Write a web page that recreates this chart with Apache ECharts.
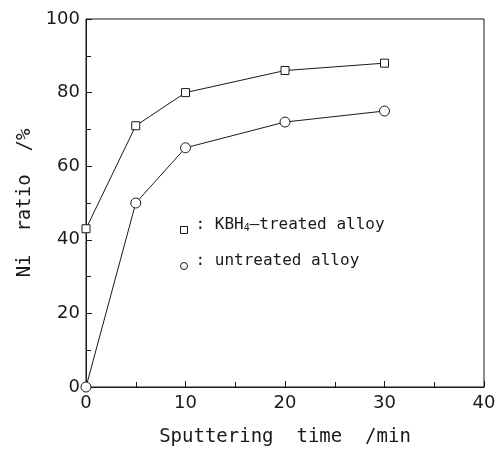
<!DOCTYPE html>
<html>
<head>
<meta charset="utf-8">
<script src="https://cdn.jsdelivr.net/npm/echarts@6/dist/echarts.min.js"></script>
<style>
  html, body { margin: 0; padding: 0; background: #fff; }
  #chart { width: 499px; height: 452px; }
</style>
</head>
<body>
<div id="chart"></div>
<script>
// sputtering time (min)
const times = [0, 5, 10, 20, 30];
// Ni ratio (%)
const treated = [43, 71, 80, 86, 88];
const untreated = [0, 50, 65, 72, 75];
const xTicks = [0, 10, 20, 30, 40];
const yTicks = [0, 20, 40, 60, 80, 100];

const FONT = 'DejaVu Sans';
const WIDE = 'DejaVu Sans Mono'; // wide-tracked look of the original lettering
const black = '#1a1a1a';

const chart = echarts.init(document.getElementById('chart'));

const pairs = (ys) => times.map((t, i) => [t, ys[i]]);

chart.setOption({
  animation: false,
  textStyle: { fontFamily: FONT, color: black },
  grid: {
    left: 86, right: 15, top: 19, bottom: 65,
    show: true, borderColor: black, borderWidth: 1
  },
  legend: {
    orient: 'vertical',
    left: 180, top: 217,
    padding: 0,
    itemGap: 19,
    itemWidth: 7, itemHeight: 7,
    data: [
      { name: 'KBH4-treated alloy', icon: 'rect' },
      { name: 'untreated alloy', icon: 'circle' }
    ],
    itemStyle: { color: '#fff', borderColor: black, borderWidth: 1 },
    textStyle: {
      fontFamily: WIDE, fontSize: 16, color: black,
      padding: [0, 0, 10, 3],
      rich: { s: { fontSize: 10, fontFamily: WIDE, color: black, padding: [7, 0, 0, 0] } }
    },
    formatter: (name) => name.startsWith('KBH4')
      ? ': KBH{s|4}\u2013treated alloy'
      : ': untreated alloy'
  },
  xAxis: {
    type: 'value',
    min: xTicks[0], max: xTicks[xTicks.length - 1], interval: 10,
    name: 'Sputtering  time  /min',
    nameLocation: 'middle', nameGap: 41,
    nameTextStyle: { fontFamily: WIDE, fontSize: 19, color: black },
    axisLine: { onZero: false, lineStyle: { color: black, width: 1 } },
    axisTick: { inside: true, length: 6, lineStyle: { color: black } },
    minorTick: { show: true, splitNumber: 2, length: 5, lineStyle: { color: black } },
    splitLine: { show: false },
    axisLabel: { fontFamily: FONT, fontSize: 18, color: black, margin: 7 }
  },
  yAxis: {
    type: 'value',
    min: yTicks[0], max: yTicks[yTicks.length - 1], interval: 20,
    name: 'Ni  ratio  /%',
    nameLocation: 'middle', nameGap: 51,
    nameTextStyle: { fontFamily: WIDE, fontSize: 19, color: black },
    axisLine: { show: true, onZero: false, lineStyle: { color: black, width: 1 } },
    axisTick: { show: true, inside: true, length: 6, lineStyle: { color: black } },
    minorTick: { show: true, splitNumber: 2, length: 5, lineStyle: { color: black } },
    splitLine: { show: false },
    axisLabel: { fontFamily: FONT, fontSize: 18, color: black, margin: 6 }
  },
  series: [
    {
      name: 'KBH4-treated alloy',
      type: 'line',
      data: pairs(treated),
      symbol: 'rect', symbolSize: 8,
      itemStyle: { color: '#fff', borderColor: black, borderWidth: 1 },
      lineStyle: { color: black, width: 1 },
      z: 3
    },
    {
      name: 'untreated alloy',
      type: 'line',
      data: pairs(untreated),
      symbol: 'circle', symbolSize: 10,
      itemStyle: { color: '#fff', borderColor: black, borderWidth: 1 },
      lineStyle: { color: black, width: 1 },
      z: 3
    }
  ]
});
</script>
</body>
</html>
